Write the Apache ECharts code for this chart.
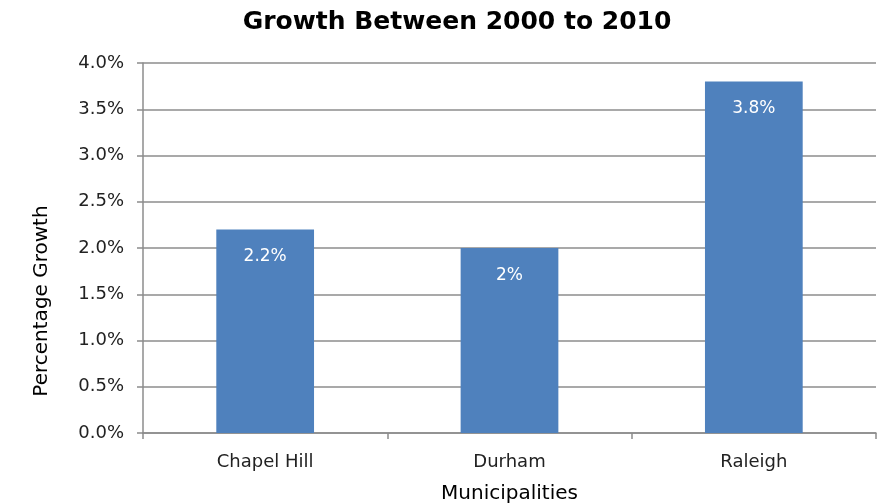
<!DOCTYPE html>
<html>
<head>
<meta charset="utf-8">
<script src="https://cdn.jsdelivr.net/npm/echarts@6/dist/echarts.min.js"></script>
<style>
  html, body { margin: 0; padding: 0; background: #fff; }
  #chart { width: 877px; height: 504px; }
</style>
</head>
<body>
<div id="chart"></div>
<script>
var categories = ['Chapel Hill', 'Durham', 'Raleigh'];
var growth = [2.2, 2, 3.8];
var barLabels = ['2.2%', '2%', '3.8%'];

var myChart = echarts.init(document.getElementById('chart'));

var font = 'DejaVu Sans';

var option = {
    title: {
        text: 'Growth Between 2000 to 2010',
        left: 452,
        textAlign: 'center',
        top: 5,
        textStyle: {
            fontFamily: font,
            fontSize: 25,
            fontWeight: 'bold',
            color: '#000'
        }
    },
    grid: {
        left: 143,
        right: 1,
        top: 63,
        bottom: 71,
        outerBoundsMode: 'none'
    },
    xAxis: {
        type: 'category',
        data: categories,
        name: 'Municipalities',
        nameLocation: 'middle',
        nameGap: 51,
        nameTextStyle: { fontFamily: font, fontSize: 20, color: '#000' },
        axisLine: { lineStyle: { color: '#8c8c8c', width: 1.5 } },
        axisTick: { show: true, length: 6, lineStyle: { color: '#8c8c8c', width: 1.5 } },
        axisLabel: { fontFamily: font, fontSize: 18, color: '#222', margin: 20 }
    },
    yAxis: {
        type: 'value',
        min: 0,
        max: 4,
        interval: 0.5,
        name: 'Percentage Growth',
        nameLocation: 'middle',
        nameGap: 91,
        nameTextStyle: { fontFamily: font, fontSize: 20, color: '#000', padding: [0, 106, 0, 0] },
        axisLine: { show: true, lineStyle: { color: '#8c8c8c', width: 1.5 } },
        axisTick: { show: true, length: 6, lineStyle: { color: '#8c8c8c', width: 1.5 } },
        splitLine: { lineStyle: { color: '#8c8c8c', width: 1.5 } },
        axisLabel: {
            fontFamily: font,
            fontSize: 18,
            color: '#222',
            margin: 19,
            formatter: function (v) { return v.toFixed(1) + '%'; }
        }
    },
    series: [{
        type: 'bar',
        data: growth,
        barWidth: '40%',
        itemStyle: { color: '#4f81bd' },
        label: {
            show: true,
            position: 'insideTop',
            distance: 19,
            color: '#fff',
            fontFamily: font,
            fontSize: 17,
            formatter: function (p) { return barLabels[p.dataIndex]; }
        }
    }]
};

myChart.setOption(option);
</script>
</body>
</html>
